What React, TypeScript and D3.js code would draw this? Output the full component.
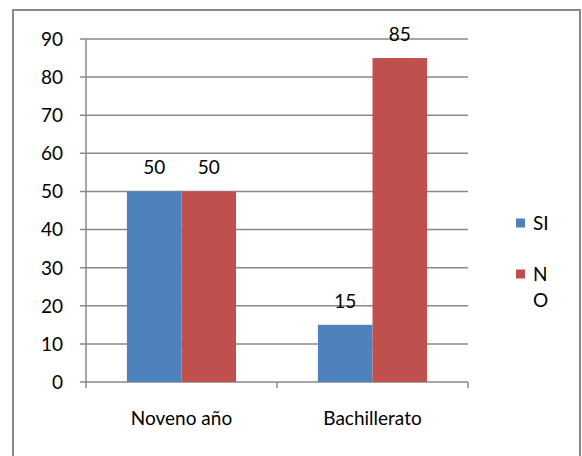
import React from "react";
import * as d3 from "d3";

const categories = ["Noveno año", "Bachillerato"];
const seriesNames = ["SI", "NO"];
const siValues = [50, 15];
const noValues = [50, 85];
const yTicks = [0, 10, 20, 30, 40, 50, 60, 70, 80, 90];
const legendLines = [["SI"], ["N", "O"]];

const colors = ["#4F81BD", "#C0504D"];
const FONT = "Lato, 'Open Sans', sans-serif";

export default function App() {
  const W = 582, H = 456;
  const left = 86, right = 468, top = 39, bottom = 382;
  const x = d3.scaleBand<string>().domain(categories).range([left, right]).paddingInner(0).paddingOuter(0);
  const xs = d3.scaleBand<string>().domain(seriesNames).range([0, x.bandwidth()]).paddingInner(0).paddingOuter(0.75);
  const y = d3.scaleLinear().domain([0, 90]).range([bottom, top]);
  const values = [siValues, noValues];
  const grid = "#898989";
  const catTicks = [left, ...categories.map((c) => (x(c) as number) + x.bandwidth())];

  return (
    <svg width={W} height={H} style={{ position: "absolute", left: 0, top: 0 }} fontFamily={FONT}>
      <rect x={0} y={0} width={W} height={H} fill="#fff" />
      <rect x={13} y={10} width={567} height={460} fill="none" stroke={grid} strokeWidth={2} />
      {yTicks.map((t) => (
        <g key={t}>
          <line x1={left - 6} x2={right} y1={y(t)} y2={y(t)} stroke={grid} strokeWidth={1.5} />
          <text x={63} y={y(t)} dy="0.36em" textAnchor="end" fontSize={19} fill="#000">{t}</text>
        </g>
      ))}
      <line x1={left} x2={left} y1={top} y2={bottom} stroke={grid} strokeWidth={1.5} />
      {catTicks.map((cx, i) => (
        <line key={i} x1={cx} x2={cx} y1={bottom} y2={bottom + 6} stroke={grid} strokeWidth={1.5} />
      ))}
      {categories.map((c, ci) => (
        <g key={c}>
          {seriesNames.map((s, si) => {
            const v = values[si][ci];
            const bx = (x(c) as number) + (xs(s) as number);
            return (
              <g key={s}>
                <rect x={bx} y={y(v)} width={xs.bandwidth()} height={bottom - y(v)} fill={colors[si]} />
                <text x={bx + xs.bandwidth() / 2} y={y(v) - 17} textAnchor="middle" fontSize={19} fill="#000">{v}</text>
              </g>
            );
          })}
          <text x={(x(c) as number) + x.bandwidth() / 2} y={425} textAnchor="middle" fontSize={19} fill="#000">{c}</text>
        </g>
      ))}
      {legendLines.map((lines, i) => {
        const cy = [223, 274][i];
        return (
          <g key={i}>
            <rect x={516} y={cy - 4.5} width={9} height={9} fill={colors[i]} />
            {lines.map((ln, j) => (
              <text key={j} x={533} y={cy + j * 26} dy="0.36em" fontSize={19} fill="#000">{ln}</text>
            ))}
          </g>
        );
      })}
    </svg>
  );
}
